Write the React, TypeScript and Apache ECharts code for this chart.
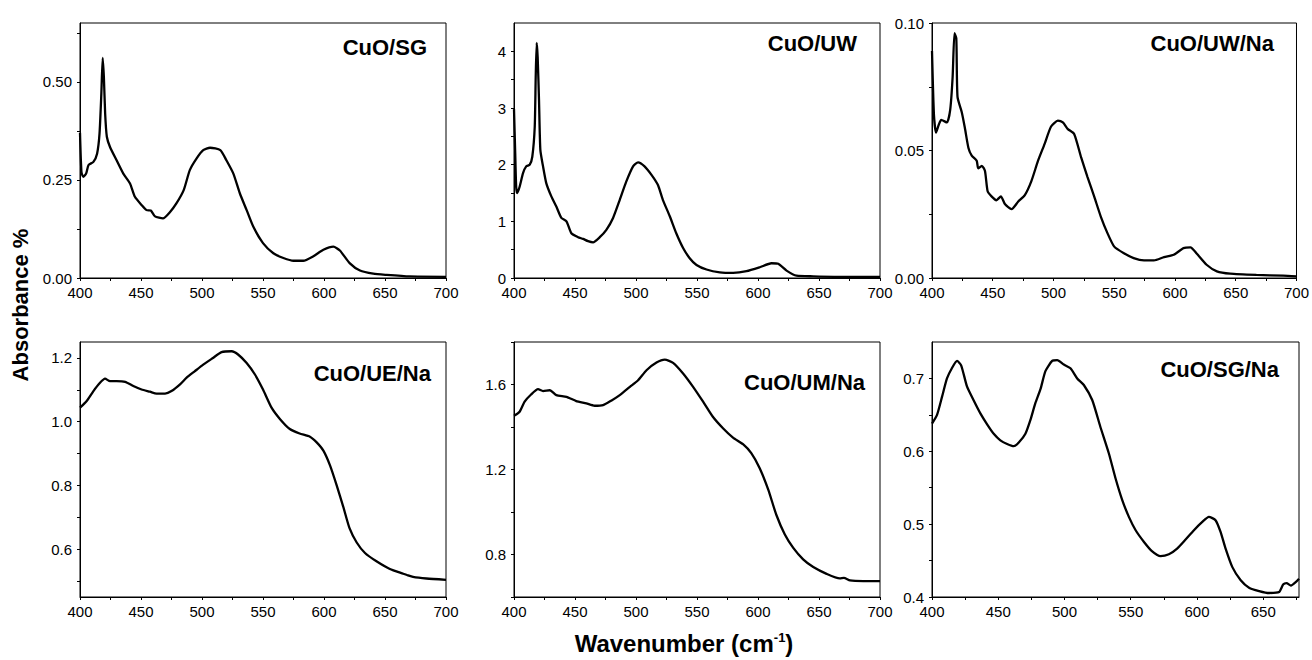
import React, { useEffect, useRef } from "react";
import * as echarts from "echarts";

// ---- data (wavenumber cm-1, absorbance) ----
const cuoSG: number[][] = [[400,0.37],[401.2,0.27],[402.7,0.258],[405,0.266],[407,0.288],[411,0.296],[414,0.317],[416,0.368],[417.5,0.47],[418.6,0.561],[419.6,0.51],[420.6,0.42],[422,0.36],[424.6,0.334],[430,0.30],[435.5,0.266],[441,0.241],[445,0.207],[450.5,0.186],[454.6,0.173],[458,0.172],[461.5,0.157],[468,0.152],[474,0.169],[479,0.19],[485,0.224],[490,0.275],[495.6,0.305],[501,0.326],[506.6,0.332],[515,0.326],[520,0.30],[525.7,0.266],[531,0.216],[536.6,0.173],[542,0.131],[550,0.089],[558.5,0.063],[566.7,0.051],[575,0.044],[583,0.044],[591,0.055],[599.5,0.072],[607.7,0.080],[613,0.07],[621,0.038],[629.5,0.019],[640.4,0.011],[651,0.008],[670,0.004],[700,0.003]];
const cuoUW: number[][] = [[400,2.98],[401,2.2],[401.8,1.6],[402.7,1.5],[404.6,1.61],[407.4,1.85],[410,1.97],[412.9,2.0],[415,2.14],[417,2.67],[417.8,3.55],[418.6,4.15],[419.4,3.9],[420.5,3.14],[421.6,2.26],[423.8,1.97],[426.5,1.67],[430.6,1.44],[434.7,1.26],[438.8,1.06],[443,1.0],[447,0.79],[452.5,0.72],[456.6,0.69],[460.7,0.65],[464.8,0.63],[470.3,0.72],[475.7,0.85],[481.2,1.06],[486.7,1.38],[492,1.70],[497.6,1.97],[501.7,2.04],[507,1.97],[512.7,1.82],[518,1.64],[522,1.38],[527.7,1.09],[533,0.79],[538.6,0.53],[544,0.35],[549.6,0.23],[557.8,0.15],[568.7,0.10],[579.6,0.09],[590.6,0.12],[601.5,0.19],[611,0.26],[616.6,0.25],[623.4,0.13],[631.6,0.04],[645.3,0.03],[672.6,0.02],[700,0.02]];
const cuoUWNa: number[][] = [[400,0.089],[401.6,0.064],[403.3,0.057],[405.5,0.060],[407.6,0.062],[412.3,0.061],[415,0.066],[417,0.079],[418.5,0.096],[420,0.094],[421,0.071],[424.5,0.065],[427,0.059],[430,0.051],[432.7,0.048],[436.8,0.046],[438,0.043],[441,0.044],[443.6,0.042],[445.8,0.034],[449,0.032],[453,0.0305],[456.7,0.032],[460,0.029],[465.5,0.027],[471,0.030],[476.4,0.0325],[481.8,0.038],[487.3,0.046],[492.7,0.0526],[498,0.0594],[503.6,0.0617],[507.7,0.061],[511.8,0.0584],[517,0.0565],[522.7,0.0474],[528,0.0396],[533.6,0.0318],[539,0.024],[544.5,0.0175],[550,0.0123],[558,0.0097],[566,0.0078],[574.5,0.0069],[582.7,0.0069],[591,0.0082],[599,0.0091],[607,0.0117],[612.7,0.012],[618,0.0095],[626,0.0052],[634.5,0.0026],[645.5,0.0017],[667,0.0012],[689,0.0009],[700,0.0006]];
const cuoUENa: number[][] = [[400,1.044],[405.5,1.065],[411,1.096],[416.4,1.122],[420.5,1.135],[424.6,1.127],[430,1.127],[437,1.125],[443.7,1.112],[450.5,1.101],[457.4,1.094],[462.8,1.088],[469.7,1.088],[475,1.096],[482,1.117],[487.4,1.138],[494,1.158],[501,1.179],[509,1.2],[516,1.218],[524.3,1.221],[529.8,1.21],[536.6,1.184],[543.4,1.148],[550,1.101],[557,1.044],[564,1.008],[572,0.977],[580,0.963],[588.5,0.953],[594,0.935],[599.5,0.909],[605,0.862],[610.4,0.80],[615.8,0.733],[621,0.665],[626.8,0.621],[633.6,0.588],[643,0.562],[654,0.538],[665,0.523],[668,0.519],[673,0.513],[684,0.508],[700,0.504]];
const cuoUMNa: number[][] = [[400,1.453],[404.6,1.472],[408.7,1.519],[414,1.553],[419.7,1.578],[423.8,1.569],[429.3,1.573],[434.7,1.55],[443,1.542],[451,1.522],[459.3,1.511],[466,1.50],[473,1.503],[480,1.525],[486.7,1.55],[495,1.589],[501.7,1.62],[508.6,1.667],[516.8,1.703],[523.6,1.717],[530.4,1.702],[538.6,1.652],[546.8,1.589],[555,1.519],[563,1.448],[571.3,1.394],[579.5,1.35],[587.7,1.319],[594.5,1.277],[601.4,1.206],[608.4,1.105],[615,0.987],[622,0.894],[628.9,0.831],[637,0.777],[645.3,0.741],[656.2,0.709],[667,0.6875],[670.4,0.69],[675.4,0.678],[686.3,0.675],[700,0.675]];
const cuoSGNa: number[][] = [[400,0.638],[403.8,0.65],[407.6,0.675],[411.3,0.70],[415,0.714],[418.9,0.724],[422,0.718],[426.4,0.689],[431.4,0.67],[436.5,0.652],[441.6,0.637],[446.6,0.624],[451.6,0.615],[456.7,0.61],[461.7,0.607],[465.5,0.612],[470.5,0.624],[474.3,0.643],[478,0.666],[482,0.686],[485.6,0.71],[490.7,0.724],[494.5,0.725],[499.5,0.719],[504.5,0.714],[509.6,0.70],[514.6,0.691],[521,0.670],[527,0.634],[533.5,0.597],[538.5,0.563],[543.6,0.533],[548.6,0.51],[553.7,0.4916],[560,0.4756],[566,0.463],[572.5,0.456],[578.8,0.4586],[585,0.4664],[591.4,0.4788],[597.7,0.4916],[604,0.503],[609,0.51],[614,0.5054],[617.8,0.4893],[621.6,0.4664],[626.7,0.441],[633,0.423],[639.3,0.4128],[646.9,0.4082],[654.4,0.4055],[662,0.4069],[665,0.417],[667.6,0.419],[670.9,0.4156],[674.7,0.4206],[677,0.425]];

const panelNames = ["CuO/SG", "CuO/UW", "CuO/UW/Na", "CuO/UE/Na", "CuO/UM/Na", "CuO/SG/Na"];
const panelData = [cuoSG, cuoUW, cuoUWNa, cuoUENa, cuoUMNa, cuoSGNa];

// axis ranges
const yMins = [0, 0, 0, 0.45, 0.6, 0.4];
const yMaxs = [0.65, 4.5, 0.1, 1.25, 1.8, 0.75];
const xMaxs = [700, 700, 700, 700, 700, 677];

// tick values and labels
const yTicks1 = [0, 0.125, 0.25, 0.375, 0.5, 0.625];
const yLabels1 = [0, 0.25, 0.5];
const yTicks2 = [0, 0.5, 1, 1.5, 2, 2.5, 3, 3.5, 4];
const yLabels2 = [0, 1, 2, 3, 4];
const yTicks3 = [0, 0.025, 0.05, 0.075, 0.1];
const yLabels3 = [0, 0.05, 0.1];
const yTicks4 = [0.5, 0.6, 0.7, 0.8, 0.9, 1.0, 1.1, 1.2];
const yLabels4 = [0.6, 0.8, 1.0, 1.2];
const yTicks5 = [0.6, 0.8, 1.0, 1.2, 1.4, 1.6, 1.8];
const yLabels5 = [0.8, 1.2, 1.6];
const yTicks6 = [0.4, 0.45, 0.5, 0.55, 0.6, 0.65, 0.7];
const yLabels6 = [0.4, 0.5, 0.6, 0.7];
const yDecimals = [2, 0, 2, 1, 1, 1];
const yTickSets = [yTicks1, yTicks2, yTicks3, yTicks4, yTicks5, yTicks6];
const yLabelSets = [yLabels1, yLabels2, yLabels3, yLabels4, yLabels5, yLabels6];

const xTicks = [400, 425, 450, 475, 500, 525, 550, 575, 600, 625, 650, 675, 700];
const xLabels = [400, 450, 500, 550, 600, 650, 700];

const FONT = '"Liberation Sans", Arial, sans-serif';

// layout
const gridLefts = [80, 514, 932];
const gridWidths = [366, 366, 367];
const gridTops = [23, 342];
const gridHeight = 255;
const titlePos = [[427, 47], [857, 43], [1274, 43], [431, 373], [865, 382], [1279, 369]];

export default function App() {
  const ref = useRef<HTMLDivElement>(null);
  useEffect(() => {
    if (!ref.current) return;
    const chart = echarts.init(ref.current, null, { renderer: "svg" });
    const grid: any[] = [];
    const xAxis: any[] = [];
    const yAxis: any[] = [];
    const series: any[] = [];
    const graphic: any[] = [];
    for (let i = 0; i < 6; i++) {
      const col = i % 3;
      const row = Math.floor(i / 3);
      grid.push({
        left: gridLefts[col], top: gridTops[row], width: gridWidths[col], height: gridHeight,
        show: true, borderColor: "#000", borderWidth: 1, backgroundColor: "transparent",
      });
      const xm = xMaxs[i];
      xAxis.push({
        type: "value", gridIndex: i, min: 400, max: xm,
        axisLine: { show: true, onZero: false, lineStyle: { color: "#000", width: 1 } },
        axisTick: { show: true, length: 3, lineStyle: { color: "#000" }, customValues: xTicks.filter((v) => v <= xm) },
        axisLabel: {
          show: true, margin: 7, color: "#000", fontSize: 15, lineHeight: 14, fontFamily: FONT,
          customValues: xLabels.filter((v) => v <= xm), formatter: (v: number) => String(Math.round(v)),
        },
        splitLine: { show: false },
      });
      const dec = yDecimals[i];
      yAxis.push({
        type: "value", gridIndex: i, min: yMins[i], max: yMaxs[i],
        axisLine: { show: true, onZero: false, lineStyle: { color: "#000", width: 1 } },
        axisTick: { show: true, length: 3, lineStyle: { color: "#000" }, customValues: yTickSets[i] },
        axisLabel: {
          show: true, margin: 8, color: "#000", fontSize: 15, lineHeight: 14, fontFamily: FONT,
          customValues: yLabelSets[i], formatter: (v: number) => v.toFixed(dec),
        },
        splitLine: { show: false },
      });
      series.push({
        type: "line", xAxisIndex: i, yAxisIndex: i, data: panelData[i],
        showSymbol: false, symbol: "none", smooth: 0.2,
        lineStyle: { color: "#000", width: 2.3 },
      });
      graphic.push({
        type: "text", x: titlePos[i][0], y: titlePos[i][1],
        style: {
          text: panelNames[i], fill: "#000", font: `bold 22px ${FONT}`,
          textAlign: "right", textVerticalAlign: "middle",
        },
      });
    }
    graphic.push({
      type: "text", x: 20, y: 305, rotation: Math.PI / 2,
      style: {
        text: "Absorbance %", fill: "#000", font: `bold 22px ${FONT}`,
        textAlign: "center", textVerticalAlign: "middle",
      },
    });
    graphic.push({
      type: "text", x: 684, y: 643,
      style: {
        text: "{a|Wavenumber (cm}{b|-1}{a|)}",
        fill: "#000",
        textAlign: "center", textVerticalAlign: "middle",
        rich: {
          a: { fontSize: 24, fontWeight: "bold", fontFamily: FONT, fill: "#000", color: "#000" },
          b: { fontSize: 13, fontWeight: "bold", fontFamily: FONT, fill: "#000", color: "#000", verticalAlign: "top" },
        },
      },
    });
    chart.setOption({
      animation: false,
      backgroundColor: "#fff",
      grid, xAxis, yAxis, series, graphic,
    });
    return () => chart.dispose();
  }, []);
  return <div ref={ref} style={{ position: "fixed", left: 0, top: 0, width: 1312, height: 660 }} />;
}
